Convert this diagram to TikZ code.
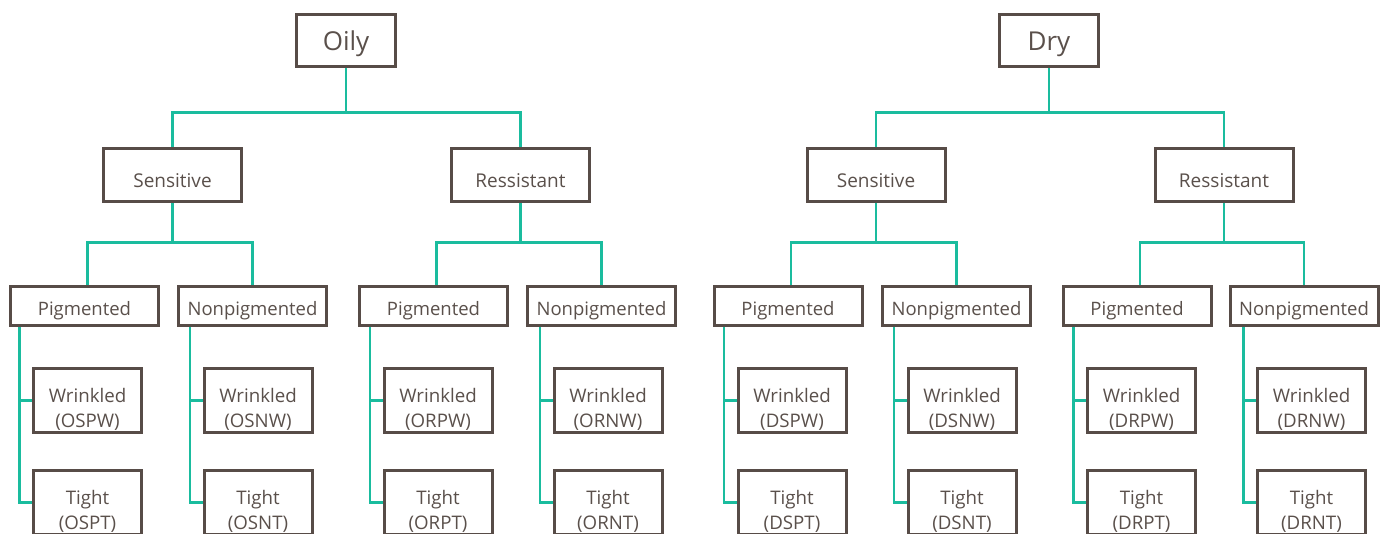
\documentclass[tikz,border=0pt]{standalone}
\usepackage{fontspec}
\setmainfont{Open Sans}
\definecolor{boxc}{HTML}{574C47}
\definecolor{txtc}{HTML}{5A504B}
\definecolor{teal}{HTML}{1ABC9E}
\newcommand{\twoline}[2]{\vtop{\baselineskip=25pt\halign{\hfil##\hfil\cr#1\cr#2\cr}}}
\tikzset{
  anybox/.style={draw=boxc, line width=3pt, fill=white, inner sep=0pt, text=txtc, rectangle},
  topbox/.style={anybox, minimum width=99pt, minimum height=52pt, text height=24pt, text depth=3pt, font=\fontsize{26}{30}\selectfont},
  midbox/.style={anybox, minimum width=138pt, minimum height=53pt, text height=28pt, text depth=2pt, font=\fontsize{19}{24}\selectfont},
  lowbox/.style={anybox, minimum width=148pt, minimum height=39pt, text height=22pt, text depth=2pt, font=\fontsize{18.5}{24}\selectfont},
  leafbox/.style={anybox, minimum width=108pt, minimum height=64pt, text height=16pt, text depth=13pt, font=\fontsize{18.7}{24}\selectfont},
  link/.style={draw=teal, line width=2.8pt}
}
\begin{document}
\begin{tikzpicture}[x=1pt, y=-1pt]
\useasboundingbox (0,0) rectangle (1386,534);
\clip (0,0) rectangle (1386,534);

% ---------- top level ----------
\node[topbox] (oily) at (346,40.5) {Oily};
\node[topbox] (dry)  at (1049,40.5) {Dry};

% ---------- level 1 ----------
\node[midbox] (os) at (172.5,175) {Sensitive};
\node[midbox] (or) at (520.5,175) {Ressistant};
\node[midbox] (ds) at (876,175) {Sensitive};
\node[midbox] (dr) at (1224,175) {Ressistant};

% ---------- level 2 ----------
\node[lowbox] (osp) at (84.5,306) {Pigmented};
\node[lowbox] (osn) at (252.5,306) {Nonpigmented};
\node[lowbox] (orp) at (433.5,306) {Pigmented};
\node[lowbox] (orn) at (601.5,306) {Nonpigmented};
\node[lowbox] (dsp) at (788,306) {Pigmented};
\node[lowbox] (dsn) at (956.5,306) {Nonpigmented};
\node[lowbox] (drp) at (1137,306) {Pigmented};
\node[lowbox] (drn) at (1304,306) {Nonpigmented};

% ---------- level 3 ----------
\node[leafbox] (ospw) at (87.5,400.5)  {\twoline{Wrinkled}{(OSPW)}};
\node[leafbox] (ospt) at (87.5,502.5)  {\twoline{Tight}{(OSPT)}};
\node[leafbox] (osnw) at (258,400.5)   {\twoline{Wrinkled}{(OSNW)}};
\node[leafbox] (osnt) at (258,502.5)   {\twoline{Tight}{(OSNT)}};
\node[leafbox] (orpw) at (438,400.5)   {\twoline{Wrinkled}{(ORPW)}};
\node[leafbox] (orpt) at (438,502.5)   {\twoline{Tight}{(ORPT)}};
\node[leafbox] (ornw) at (608,400.5)   {\twoline{Wrinkled}{(ORNW)}};
\node[leafbox] (ornt) at (608,502.5)   {\twoline{Tight}{(ORNT)}};
\node[leafbox] (dspw) at (792,400.5)   {\twoline{Wrinkled}{(DSPW)}};
\node[leafbox] (dspt) at (792,502.5)   {\twoline{Tight}{(DSPT)}};
\node[leafbox] (dsnw) at (962,400.5)   {\twoline{Wrinkled}{(DSNW)}};
\node[leafbox] (dsnt) at (962,502.5)   {\twoline{Tight}{(DSNT)}};
\node[leafbox] (drpw) at (1141.5,400.5){\twoline{Wrinkled}{(DRPW)}};
\node[leafbox] (drpt) at (1141.5,502.5){\twoline{Tight}{(DRPT)}};
\node[leafbox] (drnw) at (1311.5,400.5){\twoline{Wrinkled}{(DRNW)}};
\node[leafbox] (drnt) at (1311.5,502.5){\twoline{Tight}{(DRNT)}};

% ---------- connectors: top -> level 1 ----------
\foreach \t/\a/\b in {oily/os/or, dry/ds/dr}{
  \draw[link] (\t.south) -- ++(0,44.5) coordinate (\t-h);
  \draw[link] (\a.north) |- (\t-h) -| (\b.north);
}

% ---------- connectors: level 1 -> level 2 ----------
\foreach \s/\a/\b in {os/osp/osn, or/orp/orn, ds/dsp/dsn, dr/drp/drn}{
  \draw[link] (\s.south) -- ++(0,39.5) coordinate (\s-h);
  \draw[link] ([xshift=3pt]\a.north) |- (\s-h) -| (\b.north);
}

% ---------- connectors: level 2 -> level 3 ----------
\foreach \p/\w/\t in {osp/ospw/ospt, osn/osnw/osnt, orp/orpw/orpt, orn/ornw/ornt,
                      dsp/dspw/dspt, dsn/dsnw/dsnt, drp/drpw/drpt, drn/drnw/drnt}{
  \coordinate (\w-v) at ([xshift=-12.5pt]\w.west);
  \draw[link] (\p.south -| \w-v) |- (\t.west);
  \draw[link] (\w-v) -- (\w.west);
}
\end{tikzpicture}
\end{document}
